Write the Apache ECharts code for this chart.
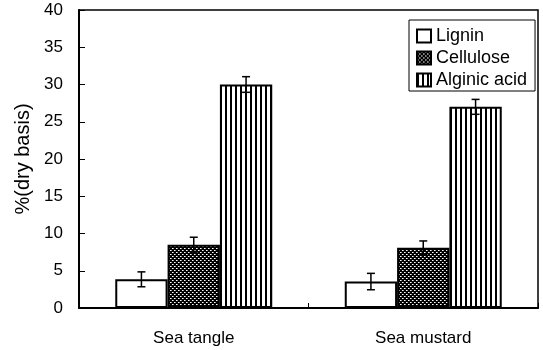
<!DOCTYPE html>
<html>
<head>
<meta charset="utf-8">
<script src="https://cdn.jsdelivr.net/npm/echarts@6/dist/echarts.min.js"></script>
<style>html,body{margin:0;padding:0;background:#fff;}#c{width:543px;height:350px;}</style>
</head>
<body>
<div id="c"></div>
<script>
const categories = ['Sea tangle', 'Sea mustard'];
const seriesNames = ['Lignin', 'Cellulose', 'Alginic acid'];
const lignin = [3.85, 3.55];
const cellulose = [8.5, 8.1];
const alginic = [30.0, 27.0];
const ligninErr = [1.0, 1.1];
const celluloseErr = [1.0, 0.9];
const alginicErr = [1.05, 1.0];
const yTicks = [0, 5, 10, 15, 20, 25, 30, 35, 40];

function dotPattern() {
  const c = document.createElement('canvas');
  c.width = 4; c.height = 4;
  const g = c.getContext('2d');
  g.fillStyle = '#000'; g.fillRect(0, 0, 4, 4);
  g.fillStyle = '#fff';
  g.fillRect(0, 0, 1, 1); g.fillRect(2, 2, 1, 1);
  g.fillStyle = '#999';
  g.fillRect(1, 0, 1, 1); g.fillRect(3, 2, 1, 1);
  return c;
}
function linePattern() {
  const c = document.createElement('canvas');
  c.width = 5; c.height = 4;
  const g = c.getContext('2d');
  g.fillStyle = '#fff'; g.fillRect(0, 0, 5, 4);
  g.fillStyle = '#000'; g.fillRect(0, 0, 2, 4);
  return c;
}

const gapRatio = 0.316;
const values = [lignin, cellulose, alginic];
const errs = [ligninErr, celluloseErr, alginicErr];
const errData = [];
for (let s = 0; s < 3; s++) {
  for (let i = 0; i < categories.length; i++) {
    errData.push([i, values[s][i], errs[s][i], s]);
  }
}

const fills = ['#fff', {image: dotPattern(), repeat: 'repeat'}, {image: linePattern(), repeat: 'repeat'}];
const font = 'Liberation Sans';

const chart = echarts.init(document.getElementById('c'), null, {renderer: 'canvas'});
const option = {
  backgroundColor: '#fff',
  animation: false,
  grid: {left: 79, right: 5, top: 10, bottom: 42, show: true, borderColor: '#000', borderWidth: 1.5, backgroundColor: 'transparent'},
  legend: {
    data: seriesNames,
    orient: 'vertical',
    left: 409, top: 20,
    padding: [7, 8, 2, 7],
    itemGap: 4,
    itemWidth: 14, itemHeight: 13,
    icon: 'rect',
    borderColor: '#000', borderWidth: 1,
    backgroundColor: '#fff',
    textStyle: {fontFamily: font, fontSize: 18, color: '#000', lineHeight: 18}
  },
  xAxis: {
    type: 'category',
    data: categories,
    axisLine: {lineStyle: {color: '#000', width: 2}},
    axisTick: {show: true, inside: true, length: 5, lineStyle: {color: '#000', width: 1}},
    axisLabel: {fontFamily: font, fontSize: 17, color: '#000', margin: 22}
  },
  yAxis: {
    type: 'value',
    min: 0, max: 40, interval: 5,
    name: '%(dry basis)',
    nameLocation: 'middle',
    nameRotate: 90,
    nameGap: 45,
    nameTextStyle: {fontFamily: font, fontSize: 20, color: '#000'},
    axisLine: {show: true, lineStyle: {color: '#000', width: 2}},
    axisTick: {show: true, inside: true, length: 6, lineStyle: {color: '#000', width: 1}},
    axisLabel: {fontFamily: font, fontSize: 17, color: '#000', margin: 16,
      formatter: v => yTicks.includes(v) ? String(v) : ''},
    splitLine: {show: false}
  },
  series: [
    ...seriesNames.map((n, s) => ({
      name: n,
      type: 'bar',
      data: values[s],
      barGap: '0%',
      barCategoryGap: (gapRatio * 100) + '%',
      itemStyle: {color: fills[s], borderColor: '#000', borderWidth: 2}
    })),
    {
      type: 'custom',
      z: 10,
      silent: true,
      data: errData,
      renderItem: function (params, api) {
        const cat = api.value(0), v = api.value(1), e = api.value(2), s = api.value(3);
        const bandW = api.size([1, 0])[0];
        const barW = bandW * (1 - gapRatio) / 3;
        const cx = api.coord([cat, v])[0] + (s - 1) * barW;
        const yt = api.coord([cat, v + e])[1];
        const yb = api.coord([cat, v - e])[1];
        const cap = 4;
        const st = {stroke: '#000', lineWidth: 1.5};
        return {
          type: 'group',
          children: [
            {type: 'line', shape: {x1: cx, y1: yt, x2: cx, y2: yb}, style: st},
            {type: 'line', shape: {x1: cx - cap, y1: yt, x2: cx + cap, y2: yt}, style: st},
            {type: 'line', shape: {x1: cx - cap, y1: yb, x2: cx + cap, y2: yb}, style: st}
          ]
        };
      }
    }
  ]
};
chart.setOption(option);
</script>
</body>
</html>
